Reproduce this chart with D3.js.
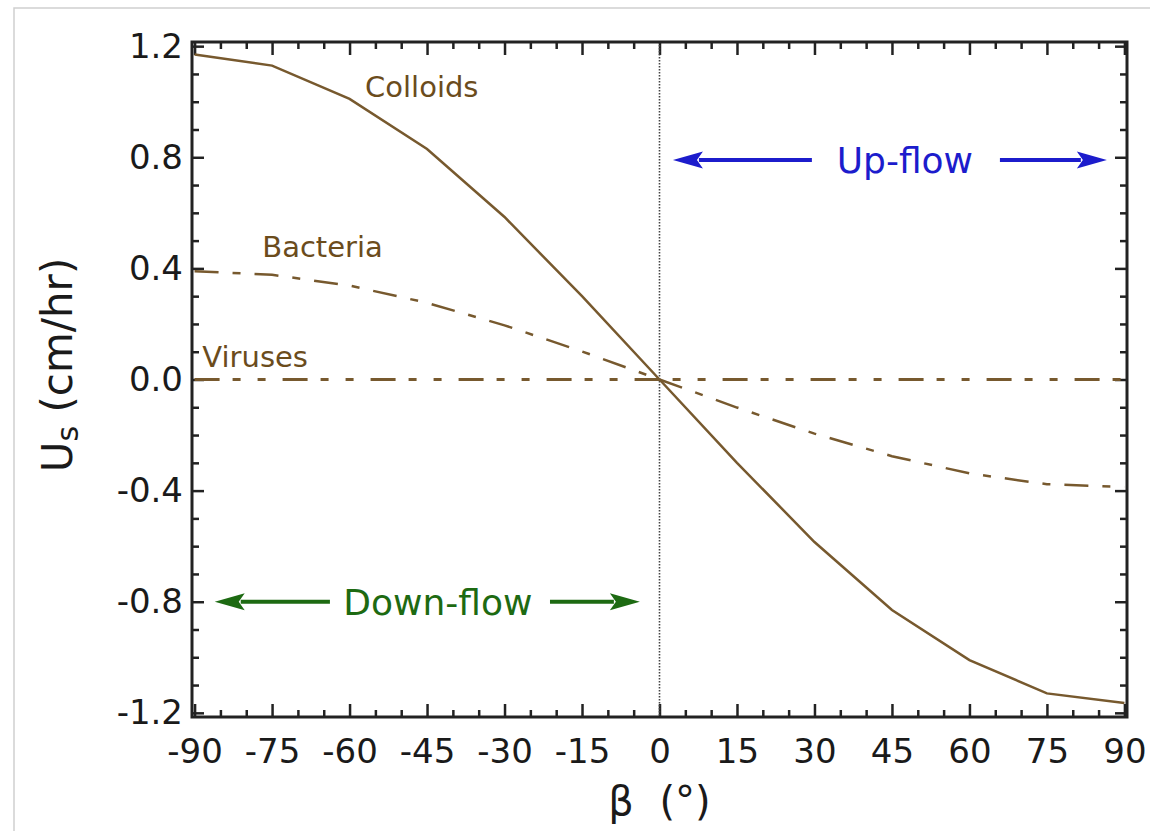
<!DOCTYPE html>
<html>
<head>
<meta charset="utf-8">
<script src="https://cdn.jsdelivr.net/npm/d3@7"></script>
<style>
  body { margin: 0; background: #fff; }
  svg { display: block; }
</style>
</head>
<body>
<div id="chart"></div>
<script>
// angle of the flow (degrees)
const beta = [-90, -75, -60, -45, -30, -15, 0, 15, 30, 45, 60, 75, 90];
const colloids = [1.17, 1.13, 1.01, 0.83, 0.585, 0.30, 0, -0.30, -0.585, -0.83, -1.01, -1.13, -1.165];
const bacteria = [0.39, 0.377, 0.338, 0.276, 0.195, 0.101, 0, -0.101, -0.195, -0.276, -0.338, -0.377, -0.387];
const viruses = [0, 0, 0, 0, 0, 0, 0, 0, 0, 0, 0, 0, 0];

const xTicks = [-90, -75, -60, -45, -30, -15, 0, 15, 30, 45, 60, 75, 90];
const yTicks = [-1.2, -0.8, -0.4, 0.0, 0.4, 0.8, 1.2];

const width = 1150, height = 831;
const plotLeft = 192, plotRight = 1127, plotTop = 42, plotBottom = 717;

const svg = d3.select("#chart").append("svg")
  .attr("width", width)
  .attr("height", height)
  .style("font-family", "'DejaVu Sans', Verdana, sans-serif");

// light frame of the screenshot
svg.append("rect")
  .attr("x", 14).attr("y", 8)
  .attr("width", width).attr("height", height)
  .attr("fill", "none")
  .attr("stroke", "#cfcfcf")
  .attr("stroke-width", 1.5);

const x = d3.scaleLinear().domain([-90.5, 90.5]).range([plotLeft, plotRight]);
const y = d3.scaleLinear().domain([-1.215, 1.215]).range([plotBottom, plotTop]);

const xMinor = d3.range(-90, 91, 5).filter(d => d % 15 !== 0);
const yMinor = d3.range(-12, 13, 1).map(d => d / 10).filter(d => Math.round(d * 10) % 4 !== 0);

// plain hyphen for negative numbers, like the original
const fmtX = d => d3.format("d")(d).replace("−", "-");
const fmtY = d => d3.format(".1f")(d).replace("−", "-");

const tickColor = "#222";

function styleAxis(g) {
  g.select(".domain").remove();
  g.selectAll(".tick line").attr("stroke", tickColor).attr("stroke-width", 2.5);
  g.selectAll(".tick text")
    .attr("fill", "#1a1a1a")
    .attr("font-size", "34px")
    .attr("font-family", "'DejaVu Sans', Verdana, sans-serif");
}

// bottom axis
svg.append("g")
  .attr("transform", `translate(0,${plotBottom})`)
  .call(d3.axisBottom(x).tickValues(xTicks).tickSize(-13).tickPadding(22).tickFormat(fmtX))
  .call(styleAxis);
svg.append("g")
  .attr("transform", `translate(0,${plotBottom})`)
  .call(d3.axisBottom(x).tickValues(xMinor).tickSize(-7).tickFormat(""))
  .call(styleAxis);

// top axis
svg.append("g")
  .attr("transform", `translate(0,${plotTop})`)
  .call(d3.axisTop(x).tickValues(xTicks).tickSize(-13).tickFormat(""))
  .call(styleAxis);
svg.append("g")
  .attr("transform", `translate(0,${plotTop})`)
  .call(d3.axisTop(x).tickValues(xMinor).tickSize(-7).tickFormat(""))
  .call(styleAxis);

// left axis
svg.append("g")
  .attr("transform", `translate(${plotLeft},0)`)
  .call(d3.axisLeft(y).tickValues(yTicks).tickSize(-12).tickPadding(9).tickFormat(fmtY))
  .call(styleAxis);
svg.append("g")
  .attr("transform", `translate(${plotLeft},0)`)
  .call(d3.axisLeft(y).tickValues(yMinor).tickSize(-7).tickFormat(""))
  .call(styleAxis);

// right axis
svg.append("g")
  .attr("transform", `translate(${plotRight},0)`)
  .call(d3.axisRight(y).tickValues(yTicks).tickSize(-12).tickFormat(""))
  .call(styleAxis);
svg.append("g")
  .attr("transform", `translate(${plotRight},0)`)
  .call(d3.axisRight(y).tickValues(yMinor).tickSize(-7).tickFormat(""))
  .call(styleAxis);

// vertical dotted line at beta = 0
svg.append("line")
  .attr("x1", x(0)).attr("x2", x(0))
  .attr("y1", plotTop).attr("y2", plotBottom)
  .attr("stroke", "#444")
  .attr("stroke-width", 1.6)
  .attr("stroke-dasharray", "1.5,1.5");

const curveColor = "#77592e";
const textColor = "#6b4c1c";

const line = d3.line()
  .x((d, i) => x(beta[i]))
  .y(d => y(d));

svg.append("path")
  .datum(viruses)
  .attr("d", line)
  .attr("fill", "none")
  .attr("stroke", curveColor)
  .attr("stroke-width", 3)
  .attr("stroke-dasharray", "25,13,8,17,8,17");

svg.append("path")
  .datum(bacteria)
  .attr("d", line)
  .attr("fill", "none")
  .attr("stroke", curveColor)
  .attr("stroke-width", 2.5)
  .attr("stroke-dasharray", "24,14,8,14");

svg.append("path")
  .datum(colloids)
  .attr("d", line)
  .attr("fill", "none")
  .attr("stroke", curveColor)
  .attr("stroke-width", 2.5);

// frame
svg.append("rect")
  .attr("x", plotLeft).attr("y", plotTop)
  .attr("width", plotRight - plotLeft).attr("height", plotBottom - plotTop)
  .attr("fill", "none")
  .attr("stroke", tickColor)
  .attr("stroke-width", 3);

// curve labels
const curveLabels = [
  { text: "Colloids", b: -57, v: 1.016 },
  { text: "Bacteria", b: -76.9, v: 0.441 },
  { text: "Viruses", b: -88.5, v: 0.044 }
];
svg.selectAll(".clabel")
  .data(curveLabels)
  .join("text")
    .attr("class", "clabel")
    .attr("x", d => x(d.b))
    .attr("y", d => y(d.v))
    .attr("fill", textColor)
    .attr("font-size", "29px")
    .text(d => d.text);

// flow arrows
const arrows = [
  { from: 29.5, to: 2.6, v: 0.79, color: "#1c1ccc" },
  { from: 65.9, to: 86.6, v: 0.79, color: "#1c1ccc" },
  { from: -63.8, to: -86.1, v: -0.80, color: "#1d6a12" },
  { from: -21.2, to: -3.8, v: -0.80, color: "#1d6a12" }
];
arrows.forEach(a => {
  const x0 = x(a.from), x1 = x(a.to), yy = y(a.v);
  const dir = Math.sign(x1 - x0);
  const head = 30;
  svg.append("line")
    .attr("x1", x0).attr("x2", x1 - dir * (head - 4))
    .attr("y1", yy).attr("y2", yy)
    .attr("stroke", a.color)
    .attr("stroke-width", 4);
  svg.append("path")
    .attr("d", `M${x1},${yy} L${x1 - dir * head},${yy - 8.5} L${x1 - dir * (head - 6)},${yy} L${x1 - dir * head},${yy + 8.5} Z`)
    .attr("fill", a.color);
});

const flowLabels = [
  { text: "Up-flow", b: 47.5, v: 0.79, color: "#1c1ccc" },
  { text: "Down-flow", b: -42.9, v: -0.80, color: "#1d6a12" }
];
svg.selectAll(".flabel")
  .data(flowLabels)
  .join("text")
    .attr("class", "flabel")
    .attr("x", d => x(d.b))
    .attr("y", d => y(d.v))
    .attr("dy", "0.36em")
    .attr("text-anchor", "middle")
    .attr("fill", d => d.color)
    .attr("font-size", "36px")
    .text(d => d.text);

// axis titles
svg.append("text")
  .attr("x", 621).attr("y", 815)
  .attr("text-anchor", "middle")
  .attr("fill", "#1a1a1a")
  .attr("font-size", "40px")
  .text("β");
svg.append("text")
  .attr("x", 685).attr("y", 815)
  .attr("text-anchor", "middle")
  .attr("fill", "#1a1a1a")
  .attr("font-size", "40px")
  .text("(°)");

const yt = svg.append("text")
  .attr("transform", "translate(72,365) rotate(-90)")
  .attr("text-anchor", "middle")
  .attr("fill", "#1a1a1a")
  .attr("font-size", "42px");
yt.append("tspan").text("U");
yt.append("tspan").attr("font-size", "30px").attr("dy", "6").text("s");
yt.append("tspan").attr("dy", "-6").text(" (cm/hr)");
</script>
</body>
</html>
